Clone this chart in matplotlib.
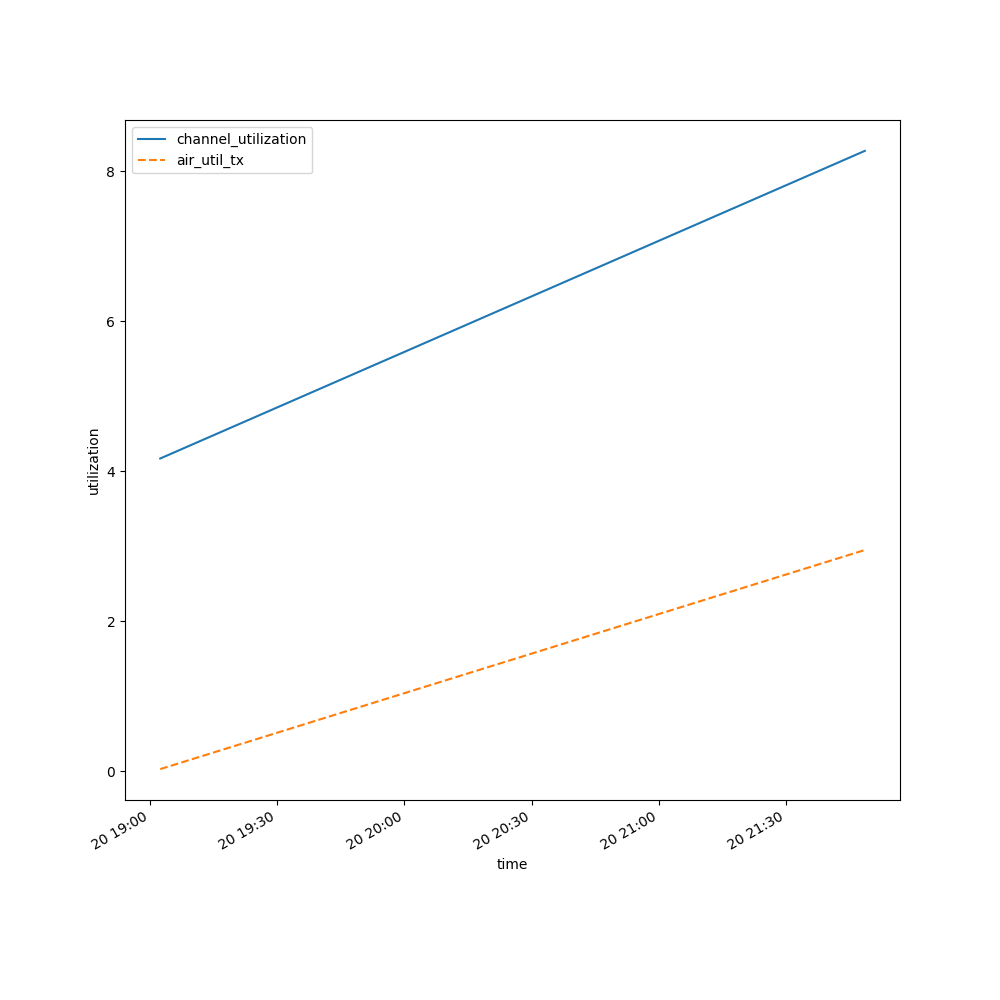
import numpy as np
import pandas as pd
import matplotlib
matplotlib.use("Agg")
import matplotlib.pyplot as plt

# readings (start / end of the window)
times = pd.to_datetime(["2024-01-20 19:02:24", "2024-01-20 21:48:36"])
channel_utilization = [4.17, 8.27]
air_util_tx = [0.03, 2.95]

fig, ax = plt.subplots(figsize=(10, 10), dpi=100)
ax.plot(times, channel_utilization, label="channel_utilization")
ax.plot(times, air_util_tx, linestyle="--", label="air_util_tx")
ax.set_xlabel("time")
ax.set_ylabel("utilization")
ax.legend(loc="upper left")
fig.autofmt_xdate()

fig.savefig("out.png")
